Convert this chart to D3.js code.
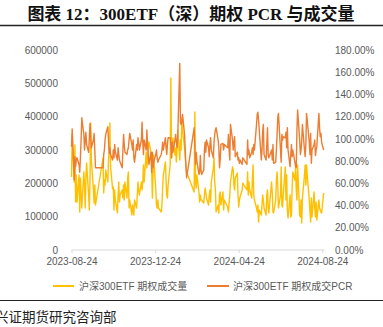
<!DOCTYPE html>
<html><head><meta charset="utf-8">
<script src="https://cdn.jsdelivr.net/npm/d3@7"></script>
<style>
html,body{margin:0;padding:0;background:#fff;}
svg{display:block;}
</style></head>
<body>
<svg id="c" width="383" height="327"></svg>
<script>
// ---------- data ----------
const startDate = "2023-08-24";
const endDate = "2024-08-26";
const holidays = ["2023-09-29","2023-10-02","2023-10-03","2023-10-04","2023-10-05","2023-10-06",
  "2024-01-01","2024-02-09","2024-02-12","2024-02-13","2024-02-14","2024-02-15","2024-02-16",
  "2024-04-04","2024-04-05","2024-05-01","2024-05-02","2024-05-03","2024-06-10"];
const xTickLabels = ["2023-08-24","2023-12-24","2024-04-24","2024-08-24"];
const leftTicks = [0,100000,200000,300000,400000,500000,600000];
const rightTicks = [0,0.2,0.4,0.6,0.8,1.0,1.2,1.4,1.6,1.8];
const seriesNames = ["沪深300ETF 期权成交量","沪深300ETF 期权成交PCR"];

// 成交量 (contracts), by month
const volAug23 = [219000,345000,204000,315000,144000,225000];
const volSep = [144000,225000,114000,216000,174000,126000,234000,195000,126000,216000,261000,165000,120000,210000,381000,270000,180000,141000,195000,135000];
const volOct = [276000,171000,210000,195000,240000,204000,270000,300000,381000,250000,183000,189000,120000,180000,150000,111000,165000];
const volNov = [204000,144000,165000,180000,156000,195000,150000,204000,156000,216000,234000,126000,150000,105000,135000,120000,105000,150000,126000,165000,204000,180000];
const volDec = [165000,204000,180000,204000,255000,204000,294000,246000,270000,306000,324000,294000,246000,156000,225000,285000,180000,135000,126000,150000,126000];
const volJan = [114000,135000,186000,225000,264000,210000,165000,156000,195000,255000,516000,276000,300000,336000,285000,306000,264000,300000,360000,270000,330000,300000];
const volFeb = [396000,360000,306000,276000,255000,234000,174000,414000,204000,186000,225000,174000,144000,165000,150000];
const volMar = [150000,141000,165000,186000,174000,156000,135000,165000,180000,144000,204000,246000,276000,204000,180000,114000,135000,111000,165000,174000,135000];
const volApr = [174000,120000,150000,129000,114000,141000,165000,204000,249000,240000,195000,180000,216000,231000,165000,129000,150000,159000,180000,201000];
const volMay = [180000,234000,165000,204000,180000,156000,216000,255000,165000,150000,126000,114000,135000,84000,120000,105000,135000,165000,150000,126000];
const volJun = [105000,165000,180000,126000,111000,204000,171000,114000,111000,150000,210000,234000,195000,126000,165000,249000,135000,129000,165000];
const volJul = [249000,150000,225000,120000,96000,165000,99000,105000,189000,234000,210000,249000,180000,150000,255000,105000,99000,150000,81000,156000,225000,255000,195000];
const volAug24 = [255000,225000,150000,114000,84000,156000,99000,174000,126000,99000,144000,90000,150000,126000,120000,114000,111000,171000];

// PCR, by month
const pcrAug23 = [0.93,1.09,0.63,0.84,0.75,0.81];
const pcrSep = [0.83,0.77,0.70,0.83,0.99,1.19,1.04,0.90,0.99,1.06,0.95,0.88,1.01,1.14,1.04,0.92,0.99,1.05,0.90,0.74];
const pcrOct = [0.74,0.86,0.90,0.99,1.04,1.11,0.99,0.87,0.92,0.86,0.81,0.90,0.83,0.95,0.88,0.81,0.92];
const pcrNov = [0.86,0.81,0.79,0.74,0.90,1.04,0.95,0.88,0.86,0.90,0.92,0.99,1.05,0.95,0.90,0.99,0.83,0.79,0.95,0.90,1.01,0.97];
const pcrDec = [0.90,0.99,1.15,0.97,0.86,0.99,0.90,1.08,0.95,0.86,0.77,0.88,0.70,0.88,0.74,0.79,0.86,0.90,0.83,0.79,0.81];
const pcrJan = [0.86,0.90,0.97,0.90,1.01,0.92,0.86,0.95,1.01,1.01,0.95,0.83,0.97,0.88,0.99,1.04,0.97,0.92,1.01,1.68,1.15,1.13];
const pcrFeb = [1.15,1.22,1.04,0.90,0.75,0.65,1.10,0.92,0.77,0.88,0.80,0.68,0.70,0.85,0.72];
const pcrMar = [0.68,0.72,0.90,0.97,0.88,0.99,0.92,0.84,0.95,1.01,0.90,0.83,0.97,1.04,1.08,1.10,0.99,0.92,0.74,0.81,0.95];
const pcrApr = [0.96,0.90,0.95,0.92,1.04,0.90,0.81,1.13,0.99,0.90,0.97,1.02,0.84,0.88,0.81,0.83,0.78,0.81,0.77,0.83];
const pcrMay = [0.77,0.99,0.86,0.90,0.83,0.88,0.92,0.86,0.95,0.90,1.13,1.22,1.24,1.17,1.08,0.81,0.90,1.07,1.13,0.86];
const pcrJun = [0.81,0.95,1.10,0.86,0.83,0.90,0.81,0.95,0.78,0.79,0.90,1.04,1.19,1.23,0.90,0.79,1.04,0.99,1.02];
const pcrJul = [1.01,1.06,0.92,1.10,0.90,0.75,0.86,0.95,0.84,0.90,0.79,0.75,0.74,1.08,1.26,0.99,0.86,0.90,0.99,1.13,0.90,0.84,0.95];
const pcrAug24 = [1.23,1.17,0.97,0.86,1.05,0.78,0.90,0.95,0.99,0.85,0.90,0.93,1.23,1.10,1.02,1.05,0.97,0.90];

// ---------- build ----------
const parse = d3.utcParse("%Y-%m-%d");
const fmt = d3.utcFormat("%Y-%m-%d");
const hol = new Set(holidays);
const dates = d3.utcDays(parse(startDate), d3.utcDay.offset(parse(endDate),1))
  .filter(d => d.getUTCDay() !== 0 && d.getUTCDay() !== 6 && !hol.has(fmt(d)));
const volume = [].concat(volAug23,volSep,volOct,volNov,volDec,volJan,volFeb,volMar,volApr,volMay,volJun,volJul,volAug24);
const pcr = [].concat(pcrAug23,pcrSep,pcrOct,pcrNov,pcrDec,pcrJan,pcrFeb,pcrMar,pcrApr,pcrMay,pcrJun,pcrJul,pcrAug24);
const n = Math.min(dates.length, volume.length, pcr.length);

const svg = d3.select("#c");
const font = "'Liberation Sans', Arial, 'Noto Sans CJK SC', sans-serif";
const grey = "#595959";

const x = d3.scaleUtc().domain([parse(xTickLabels[0]), parse(xTickLabels[3])]).range([71.5, 322.3]);
const yL = d3.scaleLinear().domain([0,600000]).range([250, 50]);
const yR = d3.scaleLinear().domain([0,1.8]).range([250, 50]);

// title
svg.append("text").attr("x",191).attr("y",20).attr("text-anchor","middle")
  .attr("font-family","'Liberation Serif','Noto Sans CJK SC',serif").attr("font-weight","bold")
  .attr("font-size",17).attr("fill","#111").text("图表 12：300ETF（深）期权 PCR 与成交量");
svg.append("line").attr("x1",0).attr("x2",383).attr("y1",25.5).attr("y2",25.5).attr("stroke","#222").attr("stroke-width",1.5);

// left axis
const gL = svg.append("g").attr("transform","translate(58,0)")
  .call(d3.axisLeft(yL).tickValues(leftTicks).tickSize(0).tickPadding(0).tickFormat(d3.format("d")));
gL.select(".domain").remove();
gL.selectAll("text").attr("font-family",font).attr("font-size",10).attr("fill",grey).attr("dy","0.32em");

// right axis
const gR = svg.append("g").attr("transform","translate(335,0)")
  .call(d3.axisRight(yR).tickValues(rightTicks).tickSize(0).tickPadding(0).tickFormat(d3.format(".2%")));
gR.select(".domain").remove();
gR.selectAll("text").attr("font-family",font).attr("font-size",10).attr("fill",grey).attr("dy","0.32em");

// x axis
const gX = svg.append("g").attr("transform","translate(0,250)")
  .call(d3.axisBottom(x).tickValues(xTickLabels.map(parse)).tickSize(3).tickPadding(5).tickFormat(fmt));
gX.select(".domain").attr("stroke","#d9d9d9").attr("d",`M${x(parse(xTickLabels[0]))},0H${x(dates[n-1])+1}`);
gX.selectAll(".tick line").attr("stroke","#d9d9d9");
gX.selectAll("text").attr("font-family",font).attr("font-size",10).attr("fill",grey);

// lines
const idx = d3.range(n);
svg.append("path").datum(idx).attr("fill","none").attr("stroke","#FFC000").attr("stroke-width",1.4)
  .attr("stroke-linejoin","round")
  .attr("d", d3.line().x(i=>x(dates[i])).y(i=>yL(volume[i])));
svg.append("path").datum(idx).attr("fill","none").attr("stroke","#ED7D31").attr("stroke-width",1.4)
  .attr("stroke-linejoin","round")
  .attr("d", d3.line().x(i=>x(dates[i])).y(i=>yR(pcr[i])));

// legend
const legend = [{c:"#FFC000",x1:53,x2:74,tx:79,t:seriesNames[0]},{c:"#ED7D31",x1:207,x2:229,tx:233,t:seriesNames[1]}];
legend.forEach(l=>{
  svg.append("line").attr("x1",l.x1).attr("x2",l.x2).attr("y1",286).attr("y2",286).attr("stroke",l.c).attr("stroke-width",2);
  svg.append("text").attr("x",l.tx).attr("y",290).attr("font-family",font).attr("font-size",10).attr("fill",grey).text(l.t);
});

// footer
svg.append("line").attr("x1",0).attr("x2",383).attr("y1",300.5).attr("y2",300.5).attr("stroke","#222").attr("stroke-width",1.2);
svg.append("text").attr("x",-5).attr("y",322).attr("font-family","'Noto Sans CJK SC',serif").attr("font-size",13.5)
  .attr("fill","#222").text("兴证期货研究咨询部");
</script>
</body></html>
